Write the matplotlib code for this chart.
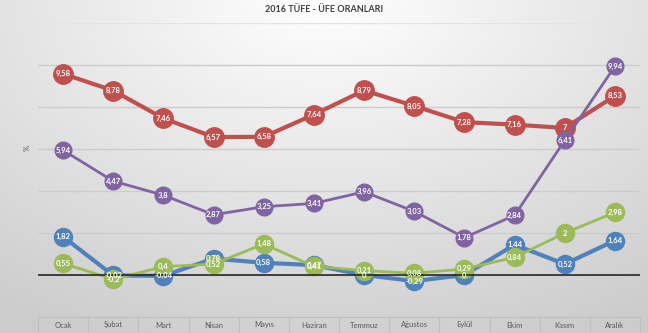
import numpy as np
import matplotlib
matplotlib.use("Agg")
import matplotlib.pyplot as plt

plt.rcParams['font.family'] = ['Lato', 'DejaVu Sans']

# 2016 monthly values (as plotted in the reference)
months = ['Ocak', 'Şubat', 'Mart', 'Nisan', 'Mayıs', 'Haziran',
          'Temmuz', 'Ağustos', 'Eylül', 'Ekim', 'Kasım', 'Aralık']
tufe_aylik = [1.82, -0.02, -0.04, 0.78, 0.58, 0.47, 0, -0.29, 0, 1.44, 0.52, 1.64]
tufe_yillik = [9.58, 8.78, 7.46, 6.57, 6.58, 7.64, 8.79, 8.05, 7.28, 7.16, 7, 8.53]
ufe_aylik = [0.55, -0.2, 0.4, 0.52, 1.48, 0.41, 0.21, 0.08, 0.29, 0.84, 2, 2.98]
ufe_yillik = [5.94, 4.47, 3.8, 2.87, 3.25, 3.41, 3.96, 3.03, 1.78, 2.84, 6.41, 9.94]

series = [
    (tufe_aylik, '#4F81BD', 3.0, 13),
    (tufe_yillik, '#C0504D', 3.0, 14),
    (ufe_aylik, '#9BBB59', 2.0, 13),
    (ufe_yillik, '#8064A2', 2.0, 12),
]

fig = plt.figure(figsize=(6.48, 3.33), dpi=100)

# gradient background
bg = fig.add_axes([0, 0, 1, 1], zorder=-10)
yy, xx = np.mgrid[0:1:200j, 0:1:400j]
dist = np.sqrt(((xx - 0.5) * 1.1) ** 2 + (yy * 0.9) ** 2)
shade = 1.0 - 0.2 * np.clip(dist, 0, 1)
bg.imshow(np.dstack([shade] * 3), aspect='auto', extent=[0, 1, 0, 1], origin='upper')
bg.axis('off')

ax = fig.add_axes([38 / 648, 16 / 333, 602 / 648, 294 / 333])
ax.patch.set_alpha(0)

x = np.arange(len(months))
for vals, color, lw, ms in series:
    ax.plot(x, vals, color=color, lw=lw, marker='o', markersize=ms,
            markeredgecolor=color)
    for xi, v in zip(x, vals):
        lab = ('%g' % v).replace('.', ',')
        ax.text(xi, v, lab, ha='center', va='center', color='white',
                fontsize=5.5, fontweight='bold')

ax.set_xlim(-0.5, 11.5)
ax.set_ylim(-2, 12)
ax.set_yticks(np.arange(-2, 13, 2))
ax.yaxis.grid(True, color='#cccccc', lw=1)
ax.get_ygridlines()[-1].set_color('#e4e4e4')
ax.axhline(0, color='#262626', lw=1.2)
ax.tick_params(left=False, bottom=False, labelleft=False, labelbottom=False)
for s in ax.spines.values():
    s.set_visible(False)

# category table below the plot
tbl = ax.table(cellText=[[''] * 12], colLabels=months, cellLoc='center',
               bbox=[0, -32 / 294, 1, 32 / 294])
tbl.auto_set_font_size(False)
for (r, c), cell in tbl.get_celld().items():
    cell.set_edgecolor('#c0c0c0')
    cell.set_facecolor('none')
    cell.set_linewidth(0.8)
    cell.get_text().set_fontsize(5.5)
    cell.get_text().set_color('#595959')

fig.text(0.5, 1 - 10 / 333, '2016 TÜFE - ÜFE ORANLARI', ha='center', va='center',
         fontsize=6.5, fontweight='bold', color='#404040')
fig.text(27 / 648, 1 - 148 / 333, '%', rotation=90, ha='center', va='center',
         fontsize=5.5, color='#595959')

fig.savefig('out.png', dpi=100)
